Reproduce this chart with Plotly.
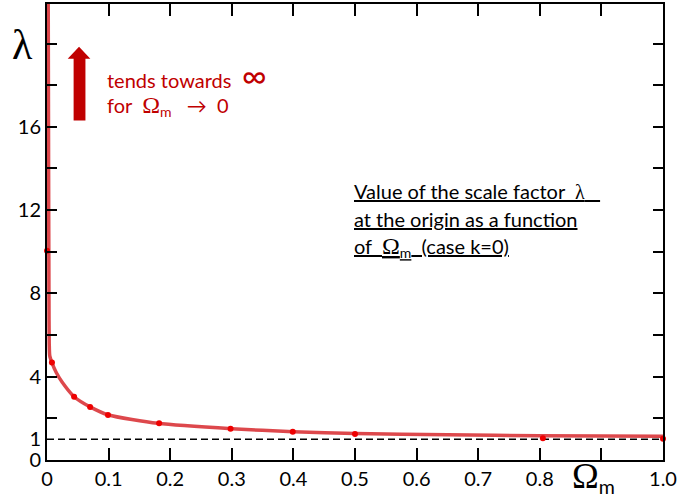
import plotly.graph_objects as go

# ---- data ----
omega_pts = [0.0, 0.008, 0.044, 0.070, 0.099, 0.182, 0.298, 0.399, 0.500, 0.805, 1.000]
lambda_pts = [10.05, 4.68, 3.04, 2.55, 2.16, 1.76, 1.50, 1.36, 1.25, 1.04, 1.02]

omega_curve = [0.0019, 0.0026, 0.0032, 0.0036, 0.0045, 0.008, 0.015, 0.025, 0.044,
               0.070, 0.100, 0.180, 0.300, 0.400, 0.500, 0.650, 0.800, 1.000]
lambda_curve = [23.0, 14.0, 7.7, 5.6, 5.0, 4.68, 4.2, 3.72, 3.04,
                2.55, 2.16, 1.76, 1.50, 1.36, 1.27, 1.21, 1.17, 1.14]

x_tick_vals = [0, 0.1, 0.2, 0.3, 0.4, 0.5, 0.6, 0.7, 0.8, 0.9, 1.0]
x_tick_text = ["0", "0.1", "0.2", "0.3", "0.4", "0.5", "0.6", "0.7", "0.8", " ", "1.0"]
y_label_vals = [0, 1, 4, 8, 12, 16]
y_label_text = ["0", "1", "4", "8", "12", "16"]
y_minor_vals = [2, 4, 6, 8, 10, 12, 14, 16, 18, 20]

W, H = 679, 500
ML, MR, MT, MB = 47, 7, 2, 40
PW, PH = W - ML - MR, H - MT - MB


def px(x):
    return (x - ML) / PW


def py(y):
    return (H - MB - y) / PH


SANS = "Lato"
SERIF = "Liberation Serif"
DARKRED = "#c00000"

fig = go.Figure()
fig.add_trace(go.Scatter(
    x=omega_curve, y=lambda_curve, mode="lines",
    line=dict(color="rgba(215,40,45,0.85)", width=3.5, shape="spline", smoothing=0.6),
    hoverinfo="skip", showlegend=False))
fig.add_trace(go.Scatter(
    x=omega_pts, y=lambda_pts, mode="markers",
    marker=dict(color="#ee0000", size=6), cliponaxis=False, showlegend=False))

fig.add_hline(y=1, line=dict(color="black", width=1.5, dash="7px,4px"), layer="below")

# arrow (decoration) in paper coords
ax0, ax1, hx0, hx1, cx = px(74), px(86), px(68), px(91), px(79.5)
ytip, ybase, ybot = py(45), py(57), py(119)
fig.add_shape(type="path", xref="paper", yref="paper",
              path=f"M{ax0},{ybot} L{ax1},{ybot} L{ax1},{ybase} L{hx1},{ybase} L{cx},{ytip} "
                   f"L{hx0},{ybase} L{ax0},{ybase} Z",
              fillcolor=DARKRED, line=dict(width=0))

OM = f"<span style='font-family:{SERIF};font-size:24px'>Ω</span>"
ann = [
    dict(text="λ", x=px(22), y=py(43), font=dict(family=SERIF, size=42, color="black"),
         xanchor="center", yanchor="middle"),
    dict(text=f"<span style='font-family:{SERIF};font-size:36px'>Ω</span><sub>m</sub>",
         x=px(578), y=py(477),
         font=dict(family=SANS, size=28, color="black"), xanchor="left", yanchor="middle"),
    dict(text="tends towards\u00a0\u00a0<span style='font-size:34px'>∞</span>", x=px(106), y=py(73),
         font=dict(family=SANS, size=20, color=DARKRED), xanchor="left", yanchor="middle"),
    dict(text=f"for\u00a0\u00a0{OM}<sub>m</sub>\u00a0\u00a0\u00a0→\u00a0\u00a00",
         x=px(106), y=py(104),
         font=dict(family=SANS, size=20, color=DARKRED), xanchor="left", yanchor="middle"),
    dict(text=f"<u>Value of the scale factor\u00a0\u00a0<span style='font-family:{SERIF}'>λ</span>\u00a0\u00a0\u00a0</u>",
         x=px(356), y=py(190), font=dict(family=SANS, size=20, color="black"),
         xanchor="left", yanchor="middle"),
    dict(text="<u>at the origin as a function</u>",
         x=px(356), y=py(218), font=dict(family=SANS, size=20, color="black"),
         xanchor="left", yanchor="middle"),
    dict(text=f"<u>of\u00a0\u00a0{OM}<sub>m</sub>\u00a0\u00a0(case k=0)</u>",
         x=px(356), y=py(246), font=dict(family=SANS, size=20, color="black"),
         xanchor="left", yanchor="middle"),
]
for a in ann:
    fig.add_annotation(xref="paper", yref="paper", showarrow=False, **a)

fig.update_xaxes(range=[0, 1], tickmode="array", tickvals=x_tick_vals, ticktext=x_tick_text,
                 ticks="inside", ticklen=12, tickwidth=2, tickcolor="black",
                 showline=True, linewidth=2, linecolor="black", mirror="allticks",
                 showgrid=False, zeroline=False, ticklabeloverflow="allow",
                 tickfont=dict(family=SANS, size=20, color="black"))
fig.update_yaxes(range=[0, 21.9], tickmode="array", tickvals=y_label_vals, ticktext=y_label_text,
                 ticks="", showline=True, linewidth=2, linecolor="black", mirror="allticks",
                 showgrid=False, zeroline=False,
                 minor=dict(tickmode="array", tickvals=y_minor_vals, ticks="inside",
                            ticklen=10, tickwidth=2, tickcolor="black", showgrid=False),
                 tickfont=dict(family=SANS, size=20, color="black"))

fig.update_layout(width=W, height=H, margin=dict(l=ML, r=MR, t=MT, b=MB, pad=0),
                  plot_bgcolor="white", paper_bgcolor="white", showlegend=False)

fig.write_html("out.html")
